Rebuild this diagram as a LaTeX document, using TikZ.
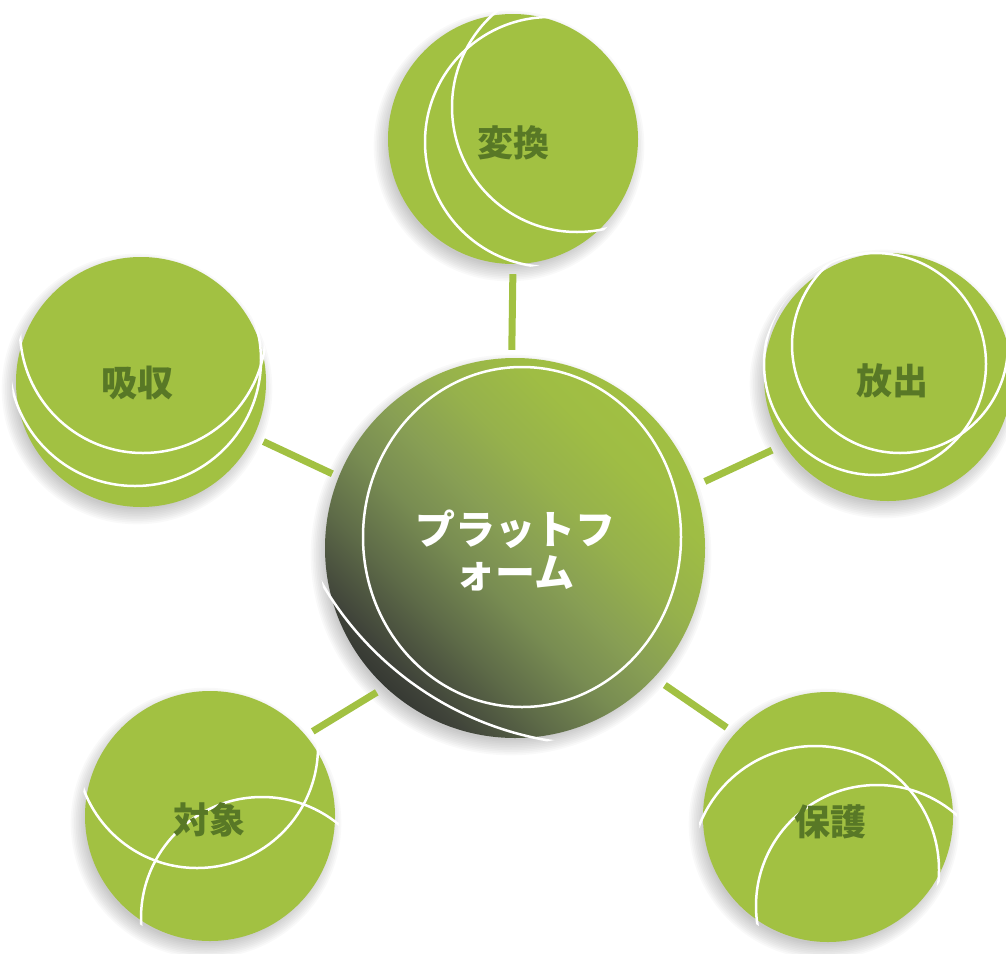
\documentclass[tikz,border=0pt]{standalone}
\usepackage{fontspec}
\newfontfamily\jp{Noto Sans CJK JP}
\definecolor{lgreen}{RGB}{162,193,66}
\definecolor{lbl}{RGB}{88,120,38}
\definecolor{dgrey}{RGB}{45,47,45}
\definecolor{ga}{RGB}{64,68,58}
\definecolor{gb}{RGB}{94,107,72}
\definecolor{gc}{RGB}{120,140,82}
\definecolor{gd}{RGB}{136,159,84}
\definecolor{ge}{RGB}{150,177,76}
\definecolor{gf}{RGB}{159,189,68}
\pgfdeclarehorizontalshading{hubshade}{100bp}{color(0bp)=(dgrey); color(22bp)=(dgrey); color(28bp)=(ga); color(36bp)=(gb); color(44bp)=(gc); color(51bp)=(gd); color(59bp)=(ge); color(68bp)=(gf); color(78bp)=(lgreen); color(100bp)=(lgreen)}
\tikzset{
  sat/.style={circle, fill=lgreen, inner sep=0pt},
  lbltext/.style={inner sep=0pt, text=lbl, font={\jp\bfseries\fontsize{36}{40}\selectfont}},
  hub/.style={circle, inner sep=0pt, shade, shading=hubshade, shading angle=45},
  hubtext/.style={inner sep=0pt, text=white, align=center, font={\jp\bfseries\fontsize{40}{43}\selectfont}},
  link/.style={draw=lgreen, line width=7pt},
  ring/.style={draw=white, line width=2.5pt},
  shadowdisc/.style={fill=black, opacity=0.025},
}
\begin{document}
\begin{tikzpicture}[x=1pt,y=-1pt]
\useasboundingbox (0,0) rectangle (1006,953);
\clip (0,0) rectangle (1006,953);
% shadows
\foreach \p/\r in {{(513,139)}/125,{(141,382)}/125,{(888,377)}/124,{(210,816)}/125,{(828,817)}/125,{(515,548)}/190}{
  \foreach \k in {1,...,10}{%
    \fill[shadowdisc,shift={\p}] (-4,7) circle ({\r+12-\k*1.7});
  }
}
\node[sat, minimum size=250pt] (t) at (513,139) {};
\node[sat, minimum size=250pt] (l) at (141,382) {};
\node[sat, minimum size=248pt] (r) at (888,377) {};
\node[sat, minimum size=250pt] (bl) at (210,816) {};
\node[sat, minimum size=250pt] (br) at (828,817) {};
\node[hub, minimum size=380pt] (c) at (515,548) {};
% rings
\begin{scope}\clip (t) circle (129);
  \draw[ring] (550,142) circle (125);
  \draw[ring] (577,107) circle (125);
\end{scope}
\begin{scope}\clip (l) circle (129);
  \draw[ring] (143,330) circle (123);
  \draw[ring] (135,360) circle (126);
\end{scope}
\begin{scope}\clip (r) circle (128);
  \draw[ring] (875,364) circle (111);
  \draw[ring] (900,345) circle (108);
\end{scope}
\begin{scope}\clip (bl) circle (129);
  \draw[ring] (197,747) circle (121);
  \draw[ring] (262,918) circle (121);
\end{scope}
\begin{scope}\clip (br) circle (129);
  \draw[ring] (815,870) circle (124);
  \draw[ring] (877,906) circle (121);
\end{scope}
\begin{scope}\clip (c) circle (196);
  \draw[ring] (522,537) ellipse [x radius=159, y radius=170];
  \draw[ring] (603,420) circle (325);
\end{scope}
% labels
\node[lbltext] (tl) at ([shift={(0,4)}]t.center) {変換};
\node[lbltext] (ll) at ([shift={(-4,1)}]l.center) {吸収};
\node[lbltext] (rl) at ([shift={(4,4)}]r.center) {放出};
\node[lbltext] (bll) at ([shift={(-1,4)}]bl.center) {対象};
\node[lbltext] (brl) at ([shift={(2,5)}]br.center) {保護};
\node[hubtext] (cl) at ([shift={(0,2)}]c.center) {プラットフ\\ォーム};
% connectors
\draw[link, shorten <=8pt, shorten >=10pt] (c.91) -- (t.270);
\draw[link, shorten <=7pt, shorten >=11pt] (c.158) -- (l.-26);
\draw[link, shorten <=11pt, shorten >=13pt] (c.19) -- (r.213);
\draw[link, shorten <=10pt, shorten >=8pt] (c.227) -- (bl.40);
\draw[link, shorten <=13pt, shorten >=10pt] (c.-43) -- (br.138);
\end{tikzpicture}
\end{document}
